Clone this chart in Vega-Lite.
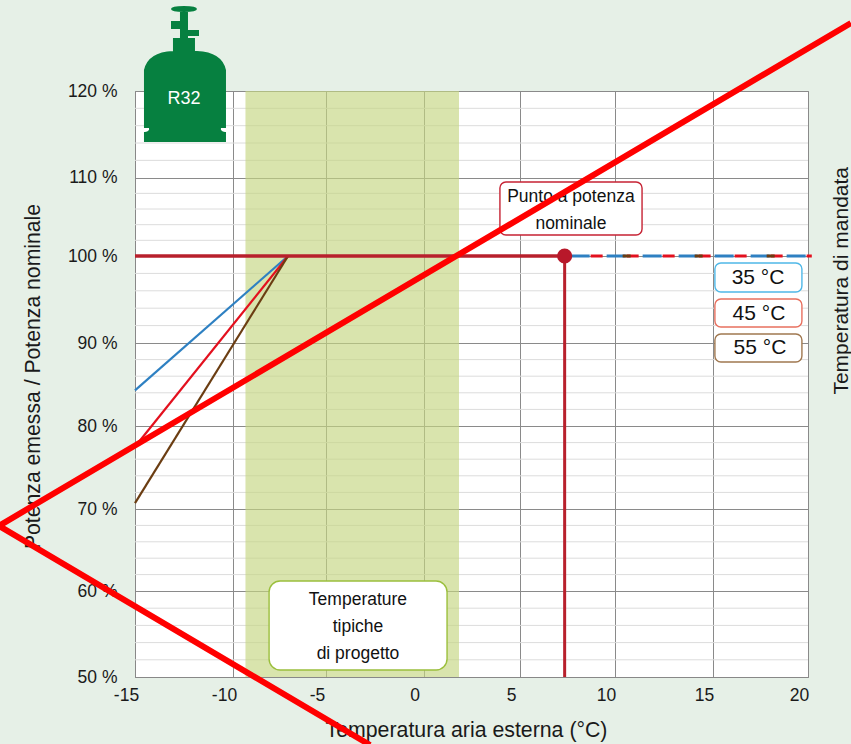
{
"$schema":"https://vega.github.io/schema/vega-lite/v6.json",
"width":673,"height":586,"autosize":{"type":"none"},
"padding":{"left":135,"top":91,"right":43,"bottom":67},
"background":"#e6f0e7",
"view":{"fill":"#ffffff","stroke":"#999999"},
"config":{"font":"Liberation Sans","text":{"font":"Liberation Sans"}},
"encoding":{
 "x":{"field":"t","type":"quantitative","scale":{"domain":[-15,-10,-5,0,5,10,15,20],"range":[0,98,191,288.5,385,480,578,673],"nice":false,"zero":false},
  "axis":{"values":[-15,-10,-5,0,5,10,15,20],"labelExpr":"'' + datum.value","title":"Temperatura aria esterna (°C)","titleFont":"Liberation Sans","titleFontWeight":"normal","titleFontSize":21.3,"titleColor":"#1a1a1a","titleX":331,"titleY":42,"labelFont":"Liberation Sans","labelFontSize":17.5,"labelColor":"#1a1a1a","labelOffset":-9,"labelPadding":9,"labelFlush":false,"labelOverlap":false,"ticks":false,"domainColor":"#888888","grid":true,"gridColor":"#8a8a8a","gridWidth":1}},
 "y":{"field":"p","type":"quantitative","scale":{"domain":[50,60,70,80,90,100,110,120],"range":[586,500,418,335,252,165,86.7,0],"nice":false,"zero":false},
  "axis":{"values":[50,60,70,80,90,100,110,120],"labelExpr":"datum.value + ' %'","title":"Potenza emessa / Potenza nominale","titleFont":"Liberation Sans","titleFontWeight":"normal","titleFontSize":21.2,"titleColor":"#1a1a1a","titleX":-92,"titleY":285,"labelFont":"Liberation Sans","labelFontSize":17.5,"labelColor":"#1a1a1a","labelPadding":18,"labelOverlap":false,"ticks":false,"domainColor":"#888888","grid":true,"gridColor":"#8a8a8a","gridWidth":1}}
},
"layer":[
 {"data":{"values":[{"t":-15,"t2":20,"p":52},{"t":-15,"t2":20,"p":54},{"t":-15,"t2":20,"p":56},{"t":-15,"t2":20,"p":58},{"t":-15,"t2":20,"p":62},{"t":-15,"t2":20,"p":64},{"t":-15,"t2":20,"p":66},{"t":-15,"t2":20,"p":68},{"t":-15,"t2":20,"p":72},{"t":-15,"t2":20,"p":74},{"t":-15,"t2":20,"p":76},{"t":-15,"t2":20,"p":78},{"t":-15,"t2":20,"p":82},{"t":-15,"t2":20,"p":84},{"t":-15,"t2":20,"p":86},{"t":-15,"t2":20,"p":88},{"t":-15,"t2":20,"p":92},{"t":-15,"t2":20,"p":94},{"t":-15,"t2":20,"p":96},{"t":-15,"t2":20,"p":98},{"t":-15,"t2":20,"p":102},{"t":-15,"t2":20,"p":104},{"t":-15,"t2":20,"p":106},{"t":-15,"t2":20,"p":108},{"t":-15,"t2":20,"p":112},{"t":-15,"t2":20,"p":114},{"t":-15,"t2":20,"p":116},{"t":-15,"t2":20,"p":118}]},
  "mark":{"type":"rule","color":"#dcdcdc","strokeWidth":1},
  "encoding":{"x2":{"field":"t2"}}},
 {"data":{"values":[{"t":-9.33,"t2":1.84,"p":50,"p2":120}]},
  "mark":{"type":"rect","fill":"#c5d581","opacity":0.65},
  "encoding":{"x2":{"field":"t2"},"y2":{"field":"p2"}}},
 {"data":{"values":[{"serie":"35 °C","t":-15,"p":84.3},{"serie":"35 °C","t":-7.04,"p":100},{"serie":"45 °C","t":-15,"p":77.5},{"serie":"45 °C","t":-7.04,"p":100},{"serie":"55 °C","t":-15,"p":70.7},{"serie":"55 °C","t":-7.04,"p":100}]},
  "mark":{"type":"line","strokeWidth":2.2,"clip":false},
  "encoding":{"color":{"field":"serie","type":"nominal","legend":null,"scale":{"domain":["35 °C","45 °C","55 °C"],"range":["#2e80c2","#e3101e","#6b3d12"]}}}},
 {"data":{"values":[{"t":-15,"p":100},{"t":7.35,"p":100}]},
  "mark":{"type":"line","color":"#b8202c","strokeWidth":3.5}},
 {"data":{"values":[{"t":7.35,"p":100},{"t":7.35,"p":50}]},
  "mark":{"type":"line","color":"#b8202c","strokeWidth":3,"orient":"vertical"}},
 {"data":{"values":[{"t":7.35,"p":100},{"t":20.2,"p":100}]},
  "mark":{"type":"line","color":"#2e80c2","strokeWidth":3,"strokeDash":[19,17],"strokeDashOffset":-6,"clip":false}},
 {"data":{"values":[{"t":7.35,"p":100},{"t":20.2,"p":100}]},
  "mark":{"type":"line","color":"#e3101e","strokeWidth":3,"strokeDash":[12,24],"strokeDashOffset":-26,"clip":false}},
 {"data":{"values":[{"t":7.35,"p":100},{"t":20.2,"p":100}]},
  "mark":{"type":"line","color":"#6b3d12","strokeWidth":3,"strokeDash":[8,64],"strokeDashOffset":-58,"clip":false}},
 {"data":{"values":[{"t":7.35,"p":100}]},
  "mark":{"type":"point","shape":"circle","filled":true,"color":"#b8182a","size":230,"opacity":1}},
 {"data":{"values":[{"box":"nominale","t":3.96,"t2":11.38,"p":109.45,"p2":102.68},{"box":"35 °C","t":15.1,"t2":19.68,"p":99.2,"p2":95.86},{"box":"45 °C","t":15.1,"t2":19.68,"p":95.06,"p2":91.84},{"box":"55 °C","t":15.1,"t2":19.68,"p":91.03,"p2":87.71}]},
  "mark":{"type":"rect","fill":"#ffffff","strokeWidth":1.4,"cornerRadius":6},
  "encoding":{"x2":{"field":"t2"},"y2":{"field":"p2"},"stroke":{"field":"box","type":"nominal","legend":null,"scale":{"domain":["nominale","35 °C","45 °C","55 °C"],"range":["#c62233","#4fb8e8","#e8705f","#a07850"]}}}},
 {"data":{"values":[{"t":-8.06,"t2":1.22,"p":61.22,"p2":50.81}]},
  "mark":{"type":"rect","fill":"#ffffff","stroke":"#9bbf3c","strokeWidth":1.4,"cornerRadius":11},
  "encoding":{"x2":{"field":"t2"},"y2":{"field":"p2"}}},
 {"data":{"values":[{"label":"Punto a potenza","t":7.68,"p":107.54},{"label":"nominale","t":7.68,"p":104.09},{"label":"Temperature","t":-3.36,"p":58.95},{"label":"tipiche","t":-3.36,"p":55.81},{"label":"di progetto","t":-3.36,"p":52.67}]},
  "mark":{"type":"text","fontSize":17.5,"color":"#111111","align":"center","baseline":"middle"},
  "encoding":{"text":{"field":"label"}}},
 {"data":{"values":[{"label":"35 °C","t":17.37,"p":97.47},{"label":"45 °C","t":17.42,"p":93.33},{"label":"55 °C","t":17.47,"p":89.4}]},
  "mark":{"type":"text","fontSize":21,"color":"#111111","align":"center","baseline":"middle"},
  "encoding":{"text":{"field":"label"}}},
 {"data":{"values":[{"label":"Temperatura di mandata","t":21.79,"p":97.15}]},
  "mark":{"type":"text","fontSize":21,"color":"#1a1a1a","align":"center","baseline":"middle","angle":270,"clip":false},
  "encoding":{"text":{"field":"label"}}},
 {"data":{"values":[{"t":-12.45,"p":120.12}]},
  "mark":{"type":"point","filled":true,"opacity":1,"color":"#068040","size":4,"clip":false,"shape":"M-14,-81 Q-14,-84 -1,-84 Q12,-84 12,-81 Q12,-78 -1,-78 Q-14,-78 -14,-81 Z M-5,-79 H3 V-52 H-5 Z M-14,-69 H-5 V-61 H-14 Z M3,-60 H14 V-54 H3 Z M-12,-52 H10 V-38 H-12 Z M-12,-39 H12 Q37,-38 41,-20 V38 H36 Q35,41 40,42 H41 V52 H-41 V42 H-40 Q-35,41 -36,38 H-41 V-20 Q-37,-38 -12,-39 Z"}},
 {"data":{"values":[{"label":"R32","t":-12.5,"p":119.08}]},
  "mark":{"type":"text","fontSize":18,"color":"#ffffff","align":"center","baseline":"middle"},
  "encoding":{"text":{"field":"label"}}},
 {"data":{"values":[{"i":1,"t":22.26,"p":127.84},{"i":2,"t":-21.94,"p":67.95},{"i":3,"t":-2.74,"p":42.09}]},
  "mark":{"type":"line","color":"#ff0000","strokeWidth":6,"clip":false,"strokeJoin":"miter"},
  "encoding":{"order":{"field":"i","type":"ordinal"}}}
]
}
